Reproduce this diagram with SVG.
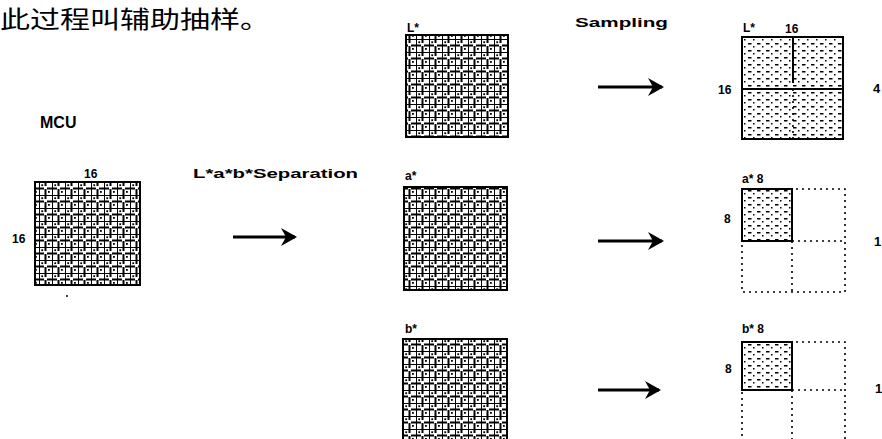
<svg xmlns="http://www.w3.org/2000/svg" width="882" height="439" viewBox="0 0 882 439">
<style>
.t{font-family:"Liberation Sans",Arial,sans-serif;font-weight:bold;fill:#000}
.s{font-size:12px}
.cj{font-family:"Noto Sans CJK SC",sans-serif;font-size:24px;fill:#000}
.box{fill:none;stroke:#000;stroke-width:2}
.dot{fill:none;stroke:#000;stroke-width:1.6;stroke-dasharray:2 4}
.arr{stroke:#000;stroke-width:3;fill:none}
</style>
<defs>
<pattern id="grid" patternUnits="userSpaceOnUse" width="13" height="13">
<path d="M0,0H13M0,6.5H5M8,6.5H13M0,0V13M6.5,0V4M6.5,7V13" stroke="#000" stroke-width="2" fill="none"/>
<rect x="2.3" y="2.3" width="1.8" height="1.8" fill="#000"/>
<rect x="9" y="9" width="1.8" height="1.8" fill="#000"/>
</pattern>
<pattern id="dots" patternUnits="userSpaceOnUse" width="9" height="7">
<rect x="1" y="1" width="3.5" height="1.5" fill="#000"/>
<rect x="6" y="4" width="1.5" height="1.5" fill="#000"/>
</pattern>
<marker id="ah" viewBox="0 0 16 18" refX="14" refY="9" markerWidth="16" markerHeight="18" markerUnits="userSpaceOnUse" orient="auto">
<path d="M0,0 L16,9 L0,18 L5,9 Z" fill="#000"/>
</marker>
</defs>
<text class="cj" x="0" y="28" textLength="270" lengthAdjust="spacingAndGlyphs">此过程叫辅助抽样。</text>

<g id="mcu">
<text class="t" x="40" y="128" font-size="16">MCU</text>
<rect x="35" y="182" width="105" height="103" fill="url(#grid)"/>
<rect class="box" x="35" y="182" width="105" height="103"/>
<text class="t s" x="84" y="178">16</text>
<text class="t s" x="12" y="243">16</text>
<circle cx="67" cy="296" r="1" fill="#000"/>
</g>

<g id="L">
<text class="t s" x="407" y="32">L*</text>
<rect x="406" y="35" width="102" height="102" fill="url(#grid)"/>
<rect class="box" x="406" y="35" width="102" height="102"/>
</g>
<g id="a">
<text class="t s" x="405" y="180">a*</text>
<rect x="404" y="187" width="103" height="103" fill="url(#grid)"/>
<rect class="box" x="404" y="187" width="103" height="103"/>
</g>
<g id="b">
<text class="t s" x="405" y="333">b*</text>
<rect x="403" y="339" width="104" height="104" fill="url(#grid)"/>
<rect class="box" x="403" y="339" width="104" height="104"/>
</g>

<g id="Ls">
<text class="t s" x="743" y="32">L*</text>
<text class="t s" x="785" y="33">16</text>
<text class="t s" x="718" y="94">16</text>
<rect x="742" y="37" width="101" height="102" fill="url(#dots)"/>
<rect class="box" x="742" y="37" width="101" height="102"/>
<line x1="793" y1="37" x2="793" y2="83" stroke="#000" stroke-width="2"/>
<line class="dot" x1="793" y1="89" x2="793" y2="139"/>
<line x1="742" y1="89" x2="843" y2="89" stroke="#000" stroke-width="2"/>
<text class="t" x="873" y="93" font-size="13">4</text>
</g>
<g id="as">
<text class="t s" x="742" y="183">a* 8</text>
<text class="t s" x="724" y="223">8</text>
<rect class="dot" x="742" y="189" width="103" height="103"/>
<line class="dot" x1="792" y1="241" x2="792" y2="292"/>
<line class="dot" x1="792" y1="241" x2="845" y2="241"/>
<rect x="742" y="189" width="50" height="52" fill="url(#dots)"/>
<rect class="box" x="742" y="189" width="50" height="52"/>
<text class="t" x="874" y="246" font-size="13">1</text>
</g>
<g id="bs">
<text class="t s" x="742" y="333">b* 8</text>
<text class="t s" x="725" y="373">8</text>
<rect class="dot" x="742" y="342" width="103" height="103"/>
<line class="dot" x1="792" y1="390" x2="792" y2="445"/>
<line class="dot" x1="792" y1="390" x2="845" y2="390"/>
<rect x="742" y="342" width="50" height="48" fill="url(#dots)"/>
<rect class="box" x="742" y="342" width="50" height="48"/>
<text class="t" x="875" y="393" font-size="13">1</text>
</g>

<g id="connectors">
<text class="t" x="193" y="178" font-size="13" textLength="165" lengthAdjust="spacingAndGlyphs">L*a*b*Separation</text>
<line class="arr" x1="233" y1="237" x2="295" y2="237" marker-end="url(#ah)"/>
<text class="t" x="575" y="27" font-size="13" textLength="93" lengthAdjust="spacingAndGlyphs">Sampling</text>
<line class="arr" x1="598" y1="87" x2="662" y2="87" marker-end="url(#ah)"/>
<line class="arr" x1="598" y1="241" x2="662" y2="241" marker-end="url(#ah)"/>
<line class="arr" x1="598" y1="390" x2="659" y2="390" marker-end="url(#ah)"/>
</g>
</svg>
